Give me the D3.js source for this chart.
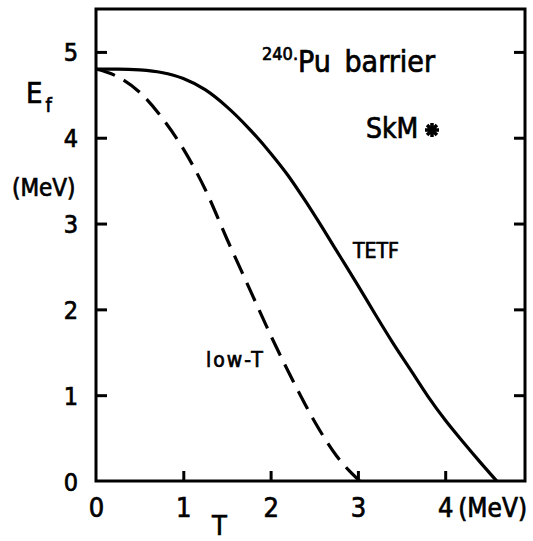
<!DOCTYPE html>
<html>
<head>
  <style>
    body { margin: 0; background: white; }
    text { font-family: "DejaVu Sans Condensed", "Liberation Sans Narrow", "DejaVu Sans", sans-serif; fill: black; stroke: black; stroke-width: 0.7px; }
  </style>
</head>
<body>
  <div id="chart"></div>
  <script src="https://d3js.org/d3.v7.min.js"></script>
  <script>
  // values: fission barrier vs temperature
  const tetfT = [0, 0.25, 0.5, 0.75, 1.0, 1.25, 1.5, 1.75, 2.0, 2.2, 2.4, 2.6, 2.8, 3.0, 3.2, 3.4, 3.6, 3.8, 4.0, 4.2, 4.4, 4.59];
  const tetfE = [4.8, 4.8, 4.79, 4.76, 4.69, 4.56, 4.36, 4.11, 3.82, 3.56, 3.26, 2.94, 2.61, 2.28, 1.94, 1.61, 1.3, 0.99, 0.71, 0.46, 0.22, 0];
  const lowT = [0, 0.25, 0.5, 0.75, 1.0, 1.25, 1.5, 1.75, 2.0, 2.25, 2.5, 2.75, 2.9, 3.02];
  const lowE = [4.8, 4.71, 4.53, 4.24, 3.87, 3.4, 2.82, 2.26, 1.7, 1.18, 0.7, 0.3, 0.12, 0];
  const xTicks = [0, 1, 2, 3, 4];
  const yTicks = [0, 1, 2, 3, 4, 5];

  const width = 533, height = 541;
  const mLeft = 96, mRight = 525, mTop = 9, mBottom = 481;

  const svg = d3.select("#chart").append("svg")
      .attr("width", width)
      .attr("height", height);

  const x = d3.scaleLinear().domain([0, (mRight - mLeft) / 87.3]).range([mLeft, mRight]);
  const y = d3.scaleLinear().domain([0, 5.5]).range([mBottom, mTop]);

  // frame
  svg.append("rect")
      .attr("x", mLeft).attr("y", mTop)
      .attr("width", mRight - mLeft).attr("height", mBottom - mTop)
      .attr("fill", "none").attr("stroke", "black").attr("stroke-width", 3);

  // left axis, ticks pointing inward
  const yAxis = svg.append("g")
      .attr("transform", `translate(${mLeft},0)`)
      .call(d3.axisLeft(y).tickValues(yTicks).tickSize(-11).tickPadding(18).tickFormat(d3.format("d")));
  yAxis.select(".domain").remove();
  yAxis.selectAll("line").attr("stroke-width", 3).filter(d => d === 0).remove();
  yAxis.selectAll("text").attr("font-size", 25).attr("dy", "0.36em");

  // right side ticks
  const yRight = svg.append("g")
      .attr("transform", `translate(${mRight},0)`)
      .call(d3.axisRight(y).tickValues(yTicks.slice(1)).tickSize(-11).tickFormat(""));
  yRight.select(".domain").remove();
  yRight.selectAll("line").attr("stroke-width", 3);

  // bottom axis
  const xAxis = svg.append("g")
      .attr("transform", `translate(0,${mBottom})`)
      .call(d3.axisBottom(x).tickValues(xTicks).tickSize(-10).tickFormat(d3.format("d")));
  xAxis.select(".domain").remove();
  xAxis.selectAll("line").attr("stroke-width", 3).filter(d => d === 0).remove();
  xAxis.selectAll("text").attr("font-size", 27).attr("y", 36).attr("dy", 0);

  svg.append("text")
      .attr("x", x(4) + 13).attr("y", mBottom + 36)
      .attr("font-size", 26)
      .text("(MeV)");

  // axis titles
  svg.append("text")
      .attr("x", 212).attr("y", 535)
      .attr("font-size", 27)
      .text("T");

  const ef = svg.append("text")
      .attr("x", 26).attr("y", 103)
      .attr("font-size", 29)
      .text("E");
  ef.append("tspan")
      .attr("dx", 3).attr("dy", 9)
      .attr("font-size", 20)
      .text("f");

  svg.append("text")
      .attr("x", 12).attr("y", 196)
      .attr("font-size", 24)
      .text("(MeV)");

  // curves
  const line = d3.line()
      .x(d => x(d[0]))
      .y(d => y(d[1]))
      .curve(d3.curveMonotoneX);

  svg.append("path")
      .datum(d3.zip(tetfT, tetfE))
      .attr("d", line)
      .attr("fill", "none").attr("stroke", "black").attr("stroke-width", 3.2);

  svg.append("path")
      .datum(d3.zip(lowT, lowE))
      .attr("d", line)
      .attr("fill", "none").attr("stroke", "black").attr("stroke-width", 3.2)
      .attr("stroke-dasharray", "20,10");

  // labels
  const title = svg.append("text")
      .attr("x", 262).attr("y", 72)
      .attr("font-size", 30)
      .attr("word-spacing", 5);
  title.append("tspan")
      .attr("font-size", 18).attr("dy", -12)
      .text("240.");
  title.append("tspan")
      .attr("dy", 12)
      .text("Pu barrier");

  svg.append("text")
      .attr("x", 366).attr("y", 138)
      .attr("font-size", 28)
      .text("SkM");

  // the star after SkM
  const star = svg.append("g").attr("transform", "translate(432,130)");
  d3.range(4).forEach(i => {
    const a = i * Math.PI / 4;
    star.append("line")
        .attr("x1", -7 * Math.cos(a)).attr("y1", -7 * Math.sin(a))
        .attr("x2", 7 * Math.cos(a)).attr("y2", 7 * Math.sin(a))
        .attr("stroke", "black").attr("stroke-width", 3.5);
  });
  star.append("circle").attr("r", 4.5).attr("fill", "black");

  svg.append("text")
      .attr("x", 353).attr("y", 258)
      .attr("font-size", 21)
      .text("TETF");

  svg.append("text")
      .attr("x", 206).attr("y", 367)
      .attr("font-size", 21)
      .attr("letter-spacing", 2)
      .text("low-T");
  </script>
</body>
</html>
